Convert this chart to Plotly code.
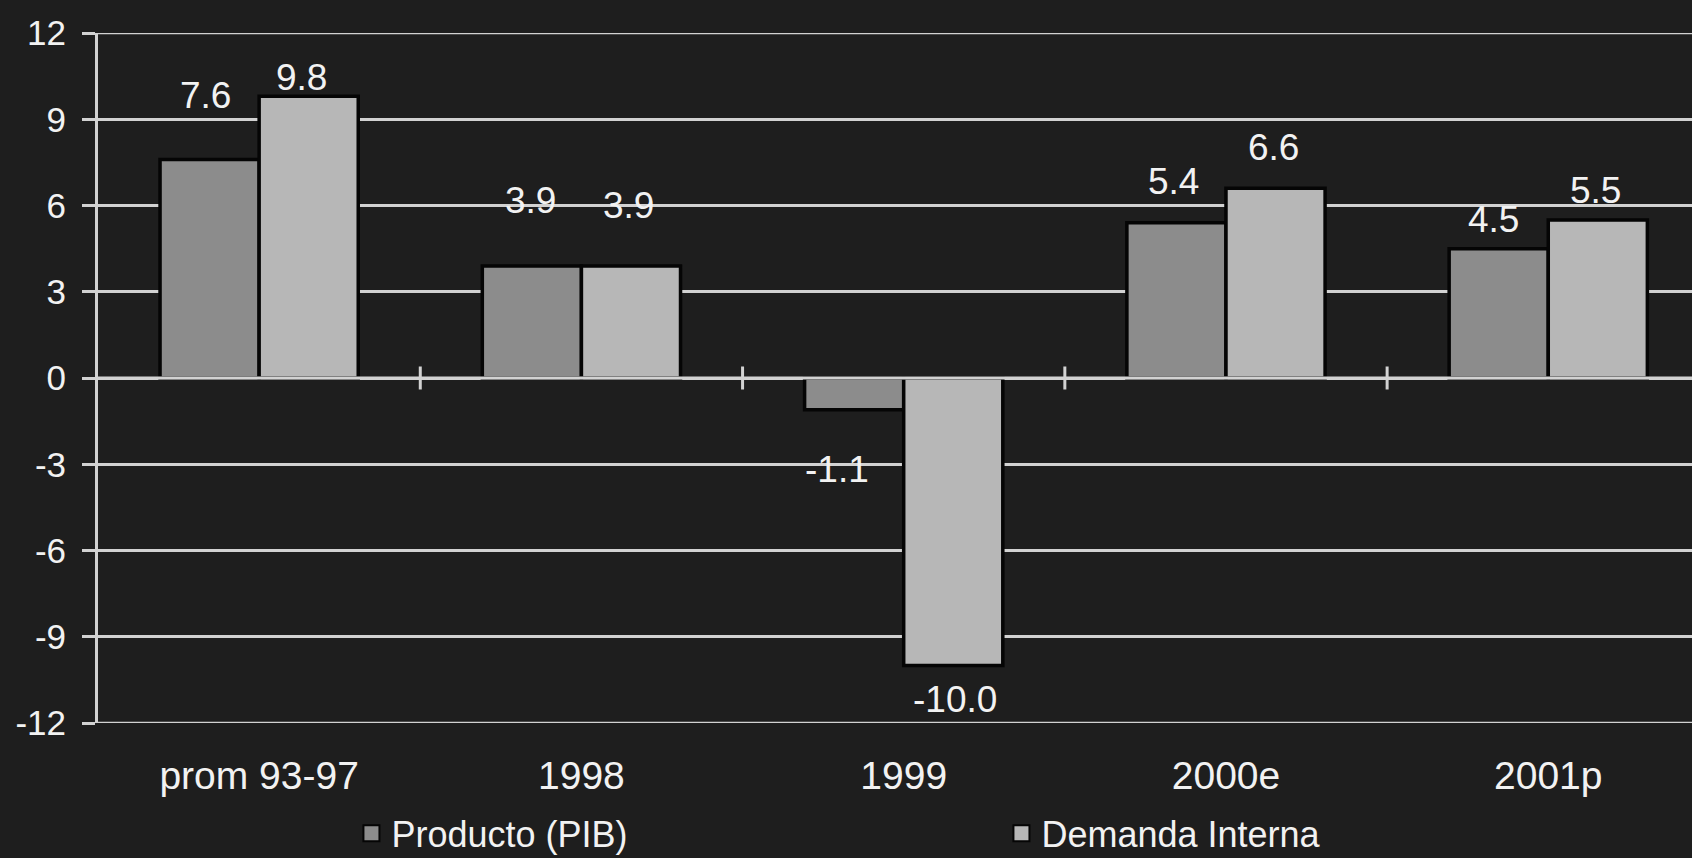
import plotly.graph_objects as go

# Growth rates (%), by period
categories = ["prom 93-97", "1998", "1999", "2000e", "2001p"]
producto = [7.6, 3.9, -1.1, 5.4, 4.5]
demanda = [9.8, 3.9, -10.0, 6.6, 5.5]
y_ticks = [-12, -9, -6, -3, 0, 3, 6, 9, 12]

series_names = ["Producto (PIB)", "Demanda Interna"]

# styling
BG = "#1e1e1e"
LINE = "#d2d2d2"
TEXT = "#f2f2f2"
FONT = "Liberation Sans, Arial, sans-serif"
bar_colors = ["#8c8c8c", "#b7b7b7"]
EDGE = "#050505"

# label nudges in pixels (dx, dy) relative to the bar end, per series
label_nudge = [
    [(-4, 64), (-1, 65), (-17, -60), (-3, 41), (-5, 29)],
    [(-7, 19), (-2, 60), (2, -34), (-2, 41), (-2, 29)],
]
group_half = 49.5  # px offset from category centre to each bar centre

fig = go.Figure()
for name, vals, col in zip(series_names, [producto, demanda], bar_colors):
    fig.add_trace(go.Bar(
        name=name, x=categories, y=vals,
        marker=dict(color=col, line=dict(color=EDGE, width=3.5)),
        hoverinfo="skip", showlegend=False,
    ))
    # legend key: a square swatch in the bar colour
    fig.add_trace(go.Scatter(
        name=name, x=[None], y=[None], mode="markers",
        marker=dict(symbol="square", size=16, color=col,
                    line=dict(color=EDGE, width=2)),
        hoverinfo="skip", showlegend=True,
    ))

annotations = []
for s, vals in enumerate([producto, demanda]):
    side = -1 if s == 0 else 1
    for j, v in enumerate(vals):
        dx, dy = label_nudge[s][j]
        annotations.append(dict(
            x=j, y=v, xref="x", yref="y",  # category index on the x axis
            text=f"{v:.1f}", showarrow=False,
            xanchor="center", yanchor="middle",
            xshift=side * group_half + dx, yshift=dy,
            font=dict(family=FONT, size=37, color=TEXT),
        ))

shapes = [
    # outer gridlines at the range limits
    dict(type="line", xref="paper", yref="y", x0=0, x1=1, y0=12, y1=12,
         line=dict(color=LINE, width=2.5), layer="below"),
    dict(type="line", xref="paper", yref="y", x0=0, x1=1, y0=-12, y1=-12,
         line=dict(color=LINE, width=2.5), layer="below"),
    # category axis drawn across the zero level, over the bars
    dict(type="line", xref="paper", yref="y", x0=0, x1=1, y0=0, y1=0,
         line=dict(color=LINE, width=3), layer="above"),
]
for b in [0.5, 1.5, 2.5, 3.5]:
    shapes.append(dict(type="line", xref="x", yref="y", x0=b, x1=b,
                       y0=-0.4, y1=0.4, line=dict(color=LINE, width=3),
                       layer="above"))

fig.update_layout(
    width=1692, height=858,
    margin=dict(l=98, r=0, t=33, b=135, autoexpand=False),
    paper_bgcolor=BG, plot_bgcolor=BG,
    barmode="group", bargap=0.385, bargroupgap=0.0,
    showlegend=True,
    legend=dict(
        orientation="h", x=0.159, y=-0.16, xanchor="left", yanchor="middle",
        font=dict(family=FONT, size=36, color=TEXT),
        entrywidth=605, entrywidthmode="pixels",
        bgcolor="rgba(0,0,0,0)",
    ),
    xaxis=dict(
        type="category", categoryorder="array", categoryarray=categories,
        range=[-0.5, 4.446], showgrid=False, zeroline=False, showline=False,
        ticks="", tickfont=dict(family=FONT, size=39, color=TEXT),
        ticklabelstandoff=26,
    ),
    yaxis=dict(
        range=[-12, 12], tickvals=y_ticks, ticktext=[str(t) for t in y_ticks],
        showgrid=True, gridcolor=LINE, gridwidth=2.5,
        zeroline=False, showline=True, linecolor=LINE, linewidth=3,
        ticks="outside", ticklen=13, tickwidth=3, tickcolor=LINE,
        tickfont=dict(family=FONT, size=35, color=TEXT),
        ticklabelstandoff=9,
    ),
    annotations=annotations,
    shapes=shapes,
)

fig.write_html("out.html")
